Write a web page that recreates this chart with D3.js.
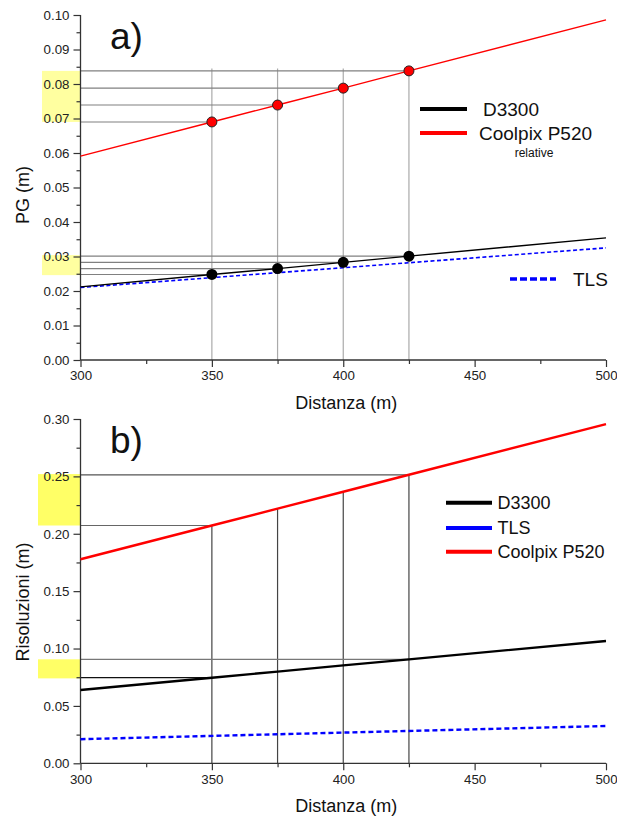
<!DOCTYPE html>
<html>
<head>
<meta charset="utf-8">
<script src="https://cdn.jsdelivr.net/npm/d3@7"></script>
<style>
  html, body { margin: 0; padding: 0; background: #fff; }
  svg { display: block; font-family: Arial, "Liberation Sans", sans-serif; }
</style>
</head>
<body>
<svg id="chart" width="617" height="818"></svg>
<script>
// ---- data ----
const distances = [300, 350, 375, 400, 425, 500];
const measured = [350, 375, 400, 425];

// panel a) PG (m)
const pgCoolpix = [0.0591, 0.0690, 0.0739, 0.0788, 0.0838, 0.0986];
const pgD3300   = [0.0212, 0.0248, 0.0265, 0.0283, 0.0301, 0.0354];
const pgTLSDist = [300, 500];
const pgTLS     = [0.0210, 0.0325];
const pgBands   = [[0.0690, 0.0838], [0.0246, 0.0304]];
const pgGuideTop = 0.0845;

// panel b) Risoluzioni (m)
const resCoolpix = [0.1778, 0.2072, 0.2219, 0.2366, 0.2514, 0.2956];
const resD3300   = [0.0639, 0.0746, 0.0799, 0.0853, 0.0906, 0.1066];
const resTLSDist = [300, 500];
const resTLS     = [0.0210, 0.0325];
const resBands   = [[0.0740, 0.0906], [0.2072, 0.2520]];

// ticks
const xTicks = [300, 350, 400, 450, 500];
const xMinor = [325, 375, 425, 475];
const pgTicks = [0.00, 0.01, 0.02, 0.03, 0.04, 0.05, 0.06, 0.07, 0.08, 0.09, 0.10];
const pgMinor = [0.005, 0.015, 0.025, 0.035, 0.045, 0.055, 0.065, 0.075, 0.085, 0.095];
const resTicks = [0.00, 0.05, 0.10, 0.15, 0.20, 0.25, 0.30];
const resMinor = [0.025, 0.075, 0.125, 0.175, 0.225, 0.275];

const svg = d3.select("#chart");
const fmt = d3.format(".2f");
const pick = (xs, ys, keep) => xs.map((d, i) => [d, ys[i]]).filter(p => keep.includes(p[0]));

function axes(g, x, y, yTicks, yMinor, yTitle, yTitleY, panelLabel, labelY) {
  const axisColor = "#333";
  const yAx = g.append("g").attr("transform", `translate(${x.range()[0]},0)`)
    .call(d3.axisLeft(y).tickValues(yTicks).tickFormat(fmt).tickSize(7).tickPadding(4));
  g.append("g").attr("transform", `translate(${x.range()[0]},0)`)
    .call(d3.axisLeft(y).tickValues(yMinor).tickFormat("").tickSize(4))
    .select(".domain").remove();
  const xAx = g.append("g").attr("transform", `translate(0,${y.range()[0]})`)
    .call(d3.axisBottom(x).tickValues(xTicks).tickFormat(d3.format("d")).tickSize(7).tickPadding(4));
  g.append("g").attr("transform", `translate(0,${y.range()[0]})`)
    .call(d3.axisBottom(x).tickValues(xMinor).tickFormat("").tickSize(4))
    .select(".domain").remove();
  g.selectAll(".domain").attr("stroke", axisColor).attr("stroke-width", 1.3);
  g.selectAll(".tick line").attr("stroke", axisColor).attr("stroke-width", 1.2);
  g.selectAll(".tick text").attr("fill", "#222").style("font-size", "13.3px")
    .style("font-family", "Arial, 'Liberation Sans', sans-serif");
  yAx.select(".domain").attr("d", `M0,${y.range()[0]}V${y.range()[1]}`);
  xAx.select(".domain").attr("d", `M${x.range()[0]},0H${x.range()[1]}`);

  g.append("text").attr("x", (x.range()[0] + x.range()[1]) / 2 + 3).attr("y", y.range()[0] + 49)
    .attr("text-anchor", "middle").style("font-size", "18px").attr("fill", "#111").text("Distanza (m)");
  g.append("text").attr("transform", `translate(29,${yTitleY}) rotate(-90)`)
    .attr("text-anchor", "middle").style("font-size", "18px").attr("fill", "#111").text(yTitle);
  g.append("text").attr("x", 110).attr("y", labelY).style("font-size", "37px")
    .attr("fill", "#111").text(panelLabel);
}

// ================= panel a) =================
{
  const g = svg.append("g");
  const x = d3.scaleLinear().domain([300, 500]).range([80.5, 606]);
  const y = d3.scaleLinear().domain([0, 0.10]).range([360, 15]);

  // highlighted value ranges on the y axis
  g.selectAll(".band").data(pgBands).join("rect")
    .attr("x", 42).attr("width", 80.5 - 42)
    .attr("y", d => y(d[1])).attr("height", d => y(d[0]) - y(d[1]))
    .attr("fill", "#ffffa0");

  // guide lines
  g.selectAll(".vguide").data(measured).join("line")
    .attr("x1", d => x(d)).attr("x2", d => x(d))
    .attr("y1", y(pgGuideTop)).attr("y2", y(0))
    .attr("stroke", "#aaa").attr("stroke-width", 1.2);
  const hg = pick(distances, pgCoolpix, measured).concat(pick(distances, pgD3300, measured));
  g.selectAll(".hguide").data(hg).join("line")
    .attr("x1", x(300)).attr("x2", d => x(d[0]))
    .attr("y1", d => y(d[1])).attr("y2", d => y(d[1]))
    .attr("stroke", "#808080").attr("stroke-width", 1.1);

  axes(g, x, y, pgTicks, pgMinor, "PG (m)", 195, "a)", 49);

  const line = d3.line().x(d => x(d[0])).y(d => y(d[1]));
  g.append("path").datum(pgTLSDist.map((d, i) => [d, pgTLS[i]]))
    .attr("d", line).attr("fill", "none").attr("stroke", "#0000ff")
    .attr("stroke-width", 1.6).attr("stroke-dasharray", "4,2.5");
  g.append("path").datum(distances.map((d, i) => [d, pgD3300[i]]))
    .attr("d", line).attr("fill", "none").attr("stroke", "#000").attr("stroke-width", 1.4);
  g.append("path").datum(distances.map((d, i) => [d, pgCoolpix[i]]))
    .attr("d", line).attr("fill", "none").attr("stroke", "#ff0000").attr("stroke-width", 1.4);

  g.selectAll(".ptR").data(pick(distances, pgCoolpix, measured)).join("circle")
    .attr("cx", d => x(d[0])).attr("cy", d => y(d[1])).attr("r", 5)
    .attr("fill", "#ff0000").attr("stroke", "#222").attr("stroke-width", 1);
  g.selectAll(".ptK").data(pick(distances, pgD3300, measured)).join("circle")
    .attr("cx", d => x(d[0])).attr("cy", d => y(d[1])).attr("r", 5.5)
    .attr("fill", "#000");

  // legend
  const lg = g.append("g").style("font-size", "19px").attr("fill", "#111");
  lg.append("line").attr("x1", 420).attr("x2", 467).attr("y1", 109).attr("y2", 109)
    .attr("stroke", "#000").attr("stroke-width", 4);
  lg.append("text").attr("x", 483).attr("y", 116).text("D3300");
  lg.append("line").attr("x1", 420).attr("x2", 467).attr("y1", 133).attr("y2", 133)
    .attr("stroke", "#ff0000").attr("stroke-width", 4);
  lg.append("text").attr("x", 479).attr("y", 140).text("Coolpix P520");
  lg.append("text").attr("x", 534).attr("y", 157).attr("text-anchor", "middle")
    .style("font-size", "12px").text("relative");
  lg.append("line").attr("x1", 510).attr("x2", 556).attr("y1", 279).attr("y2", 279)
    .attr("stroke", "#0000ff").attr("stroke-width", 3.5).attr("stroke-dasharray", "7,3");
  lg.append("text").attr("x", 573).attr("y", 286).text("TLS");
}

// ================= panel b) =================
{
  const g = svg.append("g");
  const x = d3.scaleLinear().domain([300, 500]).range([80.5, 606]);
  const y = d3.scaleLinear().domain([0, 0.30]).range([763.3, 419]);

  g.selectAll(".band").data(resBands).join("rect")
    .attr("x", 38).attr("width", 80.5 - 38)
    .attr("y", d => y(d[1])).attr("height", d => y(d[0]) - y(d[1]))
    .attr("fill", "#ffff66");

  const redPts = pick(distances, resCoolpix, measured);
  g.selectAll(".vguide").data(redPts).join("line")
    .attr("x1", d => x(d[0])).attr("x2", d => x(d[0]))
    .attr("y1", d => y(d[1])).attr("y2", y(0))
    .attr("stroke", "#444").attr("stroke-width", 1.2);
  const blackPts = pick(distances, resD3300, measured);
  const hg = [redPts[0], redPts[3], blackPts[0], blackPts[3]];
  const hgColor = ["#666", "#555", "#111", "#777"];
  g.selectAll(".hguide").data(hg).join("line")
    .attr("x1", x(300)).attr("x2", d => x(d[0]))
    .attr("y1", d => y(d[1])).attr("y2", d => y(d[1]))
    .attr("stroke", (d, i) => hgColor[i]).attr("stroke-width", 1.2);

  axes(g, x, y, resTicks, resMinor, "Risoluzioni (m)", 602, "b)", 452.5);

  const line = d3.line().x(d => x(d[0])).y(d => y(d[1]));
  g.append("path").datum(resTLSDist.map((d, i) => [d, resTLS[i]]))
    .attr("d", line).attr("fill", "none").attr("stroke", "#0000ff")
    .attr("stroke-width", 2.4).attr("stroke-dasharray", "5,3");
  g.append("path").datum(distances.map((d, i) => [d, resD3300[i]]))
    .attr("d", line).attr("fill", "none").attr("stroke", "#000").attr("stroke-width", 2.4);
  g.append("path").datum(distances.map((d, i) => [d, resCoolpix[i]]))
    .attr("d", line).attr("fill", "none").attr("stroke", "#ff0000").attr("stroke-width", 2.4);

  const legend = [["D3300", "#000"], ["TLS", "#0000ff"], ["Coolpix P520", "#ff0000"]];
  const ly = [502.7, 528, 551.7];
  const lg = g.append("g").style("font-size", "18px").attr("fill", "#111");
  legend.forEach((d, i) => {
    lg.append("line").attr("x1", 446).attr("x2", 492).attr("y1", ly[i]).attr("y2", ly[i])
      .attr("stroke", d[1]).attr("stroke-width", 4);
    lg.append("text").attr("x", 497.5).attr("y", ly[i] + 6).text(d[0]);
  });
}
</script>
</body>
</html>
